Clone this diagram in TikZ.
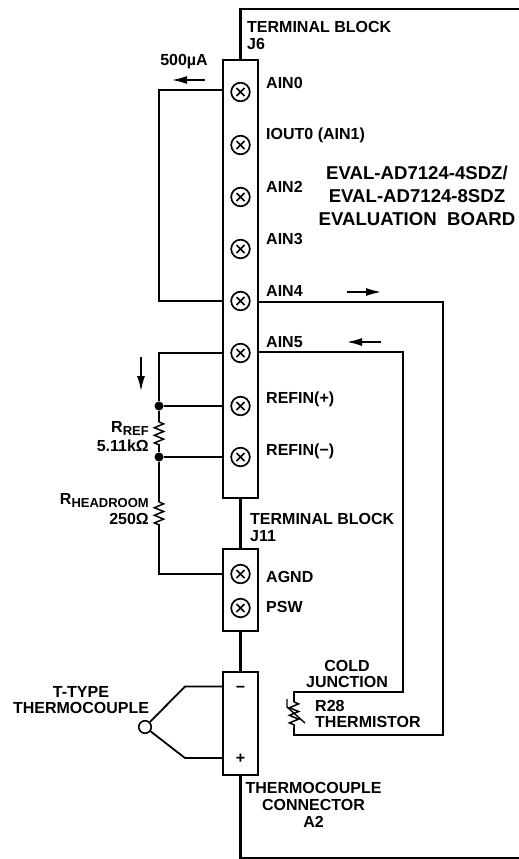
\documentclass[tikz,border=0pt]{standalone}
\usepackage{fontspec}
\setmainfont{Liberation Sans}
\usetikzlibrary{arrows.meta,decorations.pathmorphing}
\tikzset{
  lbl/.style={inner sep=0pt, anchor=west, align=left, font=\fontsize{16}{16.8}\selectfont\bfseries},
  clbl/.style={lbl, anchor=center, align=center},
  rlbl/.style={lbl, anchor=east, align=right},
  wire/.style={line width=1.8pt},
  edge/.style={line width=2.3pt},
  block/.style={draw, line width=1.6pt, minimum width=35pt, inner sep=0pt},
  screw/.style={draw, circle, line width=1.7pt, minimum size=18.6pt, inner sep=0pt,
    path picture={\draw[line width=1.5pt] (path picture bounding box.center) ++(-4pt,-4pt) -- ++(8pt,8pt)
      (path picture bounding box.center) ++(-4pt,4pt) -- ++(8pt,-8pt);}},
  dot/.style={fill, circle, inner sep=0pt, minimum size=9pt},
  res/.style={line width=1.5pt, decorate, decoration={zigzag, segment length=7.6pt, amplitude=4.6pt}},
}
\newcommand{\subs}[1]{\raisebox{-3.5pt}[0pt][0pt]{\fontsize{13}{13}\selectfont #1}}
\begin{document}
\begin{tikzpicture}[x=1pt, y=-1pt, >={Latex[length=15pt, width=8pt]}]
  \useasboundingbox (0,0) rectangle (519,859);
  \node[block, minimum height=438pt] (j6) at (240.5,279) {};
  \node[block, minimum height=82pt] (j11) at (240.5,590) {};
  \node[block, minimum height=103pt] (a2) at (240.5,723.5) {};
  % screws of the terminal blocks
  \foreach \name/\y in {ain0/92,iout0/145,ain2/197,ain3/249,ain4/301,ain5/353,refp/406,refn/457,agnd/574,psw/608}
    \node[screw] (\name) at (240.5,\y) {};
  % board outline
  \coordinate (tl) at (240.5,9);
  \coordinate (tr) at (519,9);
  \coordinate (bl) at (240.5,858);
  \coordinate (br) at (519,858);
  \draw[edge] (j6.north) -- (tl) -- (tr);
  \draw[edge] (a2.south) -- (bl) -- (br);
  \draw[edge] (j6.south) -- (j11.north);
  \draw[edge] (j11.south) -- (a2.north);
  % wires on the left
  \coordinate (la) at (159,90);
  \coordinate (lb) at (159,353);
  \coordinate (lc) at (159,574);
  \draw[wire] (j6.west |- la) -- (la) -- (la |- ain4) -- (j6.west |- ain4);
  \node[dot] (d1) at (lb |- refp) {};
  \node[dot] (d2) at (lb |- refn) {};
  \coordinate (r1a) at (159,422);
  \coordinate (r1b) at (159,445);
  \coordinate (r2a) at (159,502);
  \coordinate (r2b) at (159,525);
  \draw[wire] (j6.west |- ain5) -- (lb) -- (d1) -- (r1a);
  \draw[wire] (r1b) -- (d2) -- (r2a);
  \draw[wire] (r2b) -- (lc) -- (j11.west |- agnd);
  \draw[wire] (d1) -- (j6.west |- refp);
  \draw[wire] (d2) -- (j6.west |- refn);
  \draw[res] (r1a) -- (r1b);
  \draw[res] (r2a) -- (r2b);
  % wires on the right
  \coordinate (ra) at (443,302);
  \coordinate (rb) at (443,735);
  \coordinate (rc) at (294,735);
  \coordinate (rd) at (294,692);
  \coordinate (re) at (403,692);
  \coordinate (rf) at (403,352);
  \coordinate (t1) at (294,702);
  \coordinate (t2) at (294,727);
  \draw[wire] (j6.east |- ra) -- (ra) -- (rb) -- (rc) -- (t2);
  \draw[wire] (t1) -- (rd) -- (re) -- (rf) -- (j6.east |- rf);
  \draw[res] (t1) -- (t2);
  \coordinate (h1) at (287,699);
  \coordinate (h2) at (287,707);
  \coordinate (h3) at (305,723);
  \draw[line width=1.4pt] (h1) -- (h2) -- (h3);
  % thermocouple
  \node[draw, circle, line width=1.6pt, minimum size=12.5pt, inner sep=0pt] (tc) at (145,727) {};
  \coordinate (tca) at (185,686.5);
  \coordinate (tcb) at (185,758);
  \draw[wire] (tc) -- (tca) -- (a2.west |- tca);
  \draw[wire] (tc) -- (tcb) -- (a2.west |- tcb);
  \node[clbl] (minus) at (240.5,689) {\textminus};
  \node[clbl] (plus) at (240.5,759) {+};
  % current arrows
  \coordinate (a1s) at (205,80);
  \coordinate (a1e) at (172,80);
  \coordinate (a2s) at (141,357);
  \coordinate (a2e) at (141,391);
  \coordinate (a3s) at (347,292);
  \coordinate (a3e) at (381,292);
  \coordinate (a4s) at (381,342);
  \coordinate (a4e) at (347,342);
  \foreach \s/\e in {a1s/a1e,a2s/a2e,a3s/a3e,a4s/a4e}
    \draw[->, line width=1.5pt] (\s) -- (\e);
  % labels
  \node[lbl] (tb6) at (247,35.5) {TERMINAL BLOCK\\J6};
  \node[clbl] (cur) at (184,62) {500µA};
  \foreach \name/\y/\txt in {l0/83/AIN0,l1/135/IOUT0 (AIN1),l2/187/AIN2,l3/239/AIN3,l4/291/AIN4,l5/342/AIN5,
      l6/399/REFIN(+),l7/451/REFIN(\textminus),l8/577/AGND,l9/607/PSW}
    \node[lbl] (\name) at (266,\y) {\txt};
  \node[clbl, font=\fontsize{18.6}{23}\selectfont\bfseries] (brd) at (417,196) {EVAL-AD7124-4SDZ/\\EVAL-AD7124-8SDZ\\EVALUATION\ \ BOARD};
  \node[rlbl] (rref) at (149,436.5) {R\subs{REF}\\[2.4pt]5.11kΩ\hspace{4pt}};
  \node[rlbl] (rhead) at (149,509) {R\subs{HEADROOM}\\[3.2pt]250Ω};
  \node[lbl] (tb11) at (250,527.5) {TERMINAL BLOCK\\J11};
  \node[clbl] (tt) at (81,700) {T-TYPE\\THERMOCOUPLE};
  \node[clbl] (cj) at (347,674) {COLD\\JUNCTION};
  \node[lbl] (th) at (315,714) {R28\\THERMISTOR};
  \node[clbl] (cn) at (313.5,805) {THERMOCOUPLE\\CONNECTOR\\A2};
\end{tikzpicture}
\end{document}
